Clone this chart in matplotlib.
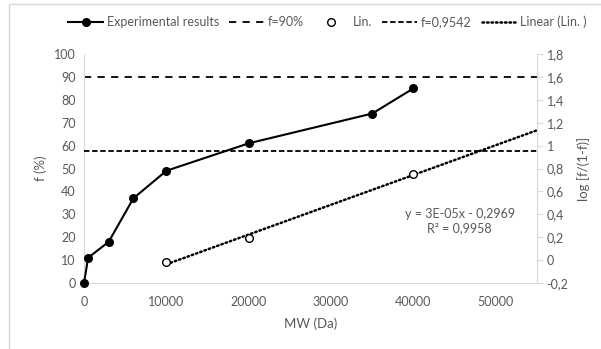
import numpy as np
import matplotlib
matplotlib.use("Agg")
import matplotlib.pyplot as plt
from matplotlib.patches import Rectangle
from matplotlib.ticker import FuncFormatter

plt.rcParams['font.family'] = ['Lato', 'DejaVu Sans']

# Experimental retention curve
mw_exp = [0, 500, 3000, 6000, 10000, 20000, 35000, 40000]
f_exp = [0, 11, 18, 37, 49, 61, 74, 85]

# Linearised points, log10(f/(1-f))
mw_lin = [10000, 20000, 40000]
f_lin = [0.49, 0.61, 0.85]
log_lin = [np.log10(f / (1 - f)) for f in f_lin]

f_90 = 90
f_9542 = 0.9542

GREY = '#595959'
AXIS = '#d9d9d9'

fig = plt.figure(figsize=(6.01, 3.49), dpi=100)
fig.patch.set_facecolor('white')

# chart-area frame
fig.patches.append(Rectangle((9 / 601, -0.1), 1.2, (1 - 4 / 349) + 0.1,
                             transform=fig.transFigure, fill=False,
                             edgecolor=AXIS, linewidth=1.0))

ax = fig.add_axes([84 / 601, 1 - 283 / 349, (537 - 84) / 601, (283 - 54) / 349])
ax2 = ax.twinx()

ax.set_xlim(0, 55000)
ax.set_ylim(0, 100)
ax2.set_ylim(-0.2, 1.8)

ax.set_xticks([0, 10000, 20000, 30000, 40000, 50000])
ax.set_yticks(range(0, 101, 10))
ax2.set_yticks(np.round(np.arange(-0.2, 1.81, 0.2), 1))


def comma(v, pos):
    s = f"{v:.1f}".rstrip('0').rstrip('.')
    if s == '-0':
        s = '0'
    return s.replace('.', ',')


ax2.yaxis.set_major_formatter(FuncFormatter(comma))

for a in (ax, ax2):
    for s in a.spines.values():
        s.set_color(AXIS)
    a.spines['top'].set_visible(False)
    a.tick_params(colors=GREY, labelsize=9)

ax.tick_params(axis='y', length=0, pad=6)
ax.tick_params(axis='x', length=0, pad=9)
ax2.spines['left'].set_visible(False)
ax2.spines['bottom'].set_visible(False)
ax2.tick_params(axis='y', length=4, color=AXIS, pad=3)

ax.set_xlabel('MW (Da)', color=GREY, fontsize=9.5, labelpad=7)
ax.set_ylabel('f (%)', color=GREY, fontsize=9.5, labelpad=5)
ax2.set_ylabel('log [f/(1-f)]', color=GREY, fontsize=9.5, labelpad=6)

# primary axis series
exp_line, = ax.plot(mw_exp, f_exp, color='black', lw=1.5, marker='o',
                    markersize=5.5, label='Experimental results', zorder=3,
                    clip_on=False)
h90 = ax.axhline(f_90, color='black', lw=1.3, dashes=(4, 3.5), label='f=90%')

# secondary axis series
h95 = ax2.axhline(f_9542, color='black', lw=1.3, dashes=(3, 1.5), label='f=0,9542')
slope, intercept = np.polyfit(mw_lin, log_lin, 1)
xt = np.array([mw_lin[0], 55000])
trend, = ax2.plot(xt, slope * xt + intercept, color='black', lw=1.8,
                  linestyle=(0, (0.6, 1.2)), dash_capstyle='round',
                  label='Linear (Lin. )')
lin_pts, = ax2.plot(mw_lin, log_lin, linestyle='none', marker='o',
                    markersize=5.5, markerfacecolor='white',
                    markeredgecolor='black', markeredgewidth=1.0,
                    label='Lin.', zorder=4)

ss_res = np.sum((np.array(log_lin) - (slope * np.array(mw_lin) + intercept)) ** 2)
ss_tot = np.sum((np.array(log_lin) - np.mean(log_lin)) ** 2)
r2 = 1 - ss_res / ss_tot
eq = f"y = 3E-05x - {abs(intercept):.4f}".replace('.', ',')
ax2.text(45600, 0.34, eq + "\n" + f"R² = {r2:.4f}".replace('.', ','),
         ha='center', va='center', color=GREY, fontsize=9, linespacing=1.25)

handles = [exp_line, h90, lin_pts, h95, trend]
labels = [h.get_label() for h in handles]
fig.legend(handles, labels, loc='center', bbox_to_anchor=(0.545, 1 - 22 / 349),
           ncol=5, frameon=False, fontsize=9, labelcolor=GREY,
           handlelength=2.8, handletextpad=0.3, columnspacing=0.8)

fig.savefig('out.png', dpi=100, facecolor='white')
